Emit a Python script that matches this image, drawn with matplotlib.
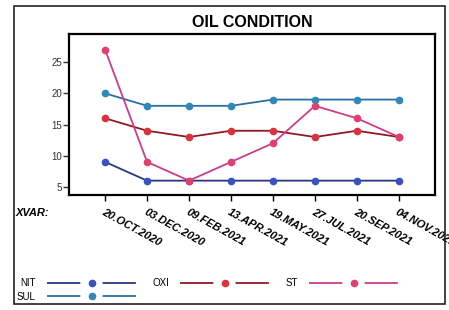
import matplotlib
matplotlib.use("Agg")
import matplotlib.pyplot as plt
from matplotlib.lines import Line2D
from matplotlib.patches import Rectangle

plt.rcParams["font.family"] = ["Liberation Sans", "DejaVu Sans"]
plt.rcParams["lines.scale_dashes"] = False

dates = ["20.OCT.2020", "03.DEC.2020", "09.FEB.2021", "13.APR.2021",
         "19.MAY.2021", "27.JUL.2021", "20.SEP.2021", "04.NOV.2021"]

nit = [9, 6, 6, 6, 6, 6, 6, 6]
sul = [20, 18, 18, 18, 19, 19, 19, 19]
oxi = [16, 14, 13, 14, 14, 13, 14, 13]
st = [27, 9, 6, 9, 12, 18, 16, 13]

series = [
    ("NIT", nit, "#2c3580", "#3a52c0"),
    ("SUL", sul, "#2a6fa0", "#2f88b8"),
    ("OXI", oxi, "#8e1a26", "#d8343f"),
    ("ST", st, "#cc3c8c", "#e0406e"),
]

fig = plt.figure(figsize=(4.49, 3.10), dpi=100)
ax = fig.add_axes([0.1537, 0.371, 0.815, 0.519])

x = list(range(len(dates)))
for name, vals, lc, mc in series:
    ax.plot(x, vals, color=lc, linewidth=1.3, marker="o", markersize=4.5,
            markerfacecolor=mc, markeredgecolor=mc, zorder=3)

ax.set_xlim(-0.86, 7.86)
ax.set_ylim(3.7, 29.5)
ax.set_yticks([5, 10, 15, 20, 25])
ax.set_xticks(x)
ax.set_xticklabels(dates, rotation=-29, ha="left", va="top",
                   rotation_mode="anchor", fontsize=8, fontweight="bold",
                   fontstyle="italic")
ax.tick_params(axis="y", labelsize=7, length=4, width=1, pad=1, colors="#333333")
ax.tick_params(axis="x", length=4, width=1, pad=5)
for sp in ax.spines.values():
    sp.set_linewidth(1.6)

ax.set_title("OIL CONDITION", fontsize=11.5, fontweight="bold", pad=5)

fig.text(0.035, 0.313, "XVAR:", fontsize=8, fontweight="bold",
         fontstyle="italic", va="center")

# legend entries: label, then line - marker - line
handles = []
for name, vals, lc, mc in series:
    handles.append(Line2D([], [], color=lc, linewidth=1.3,
                          linestyle=(0, (24, 16, 24, 200)),
                          marker="o", markersize=4.5,
                          markerfacecolor=mc, markeredgecolor=mc))
labels = [s[0] for s in series]
leg = fig.legend(handles, labels, ncol=3, loc="upper left",
                 bbox_to_anchor=(0.028, 0.115), frameon=False, fontsize=7,
                 handlelength=9.2, handletextpad=1.2, columnspacing=1.6,
                 labelspacing=0.35, numpoints=1, borderaxespad=0,
                 markerfirst=False)

fig.patches.append(Rectangle((0.031, 0.02), 0.96, 0.962, transform=fig.transFigure,
                             fill=False, edgecolor="#222222", linewidth=1.2))

fig.savefig("out.png", dpi=100)
